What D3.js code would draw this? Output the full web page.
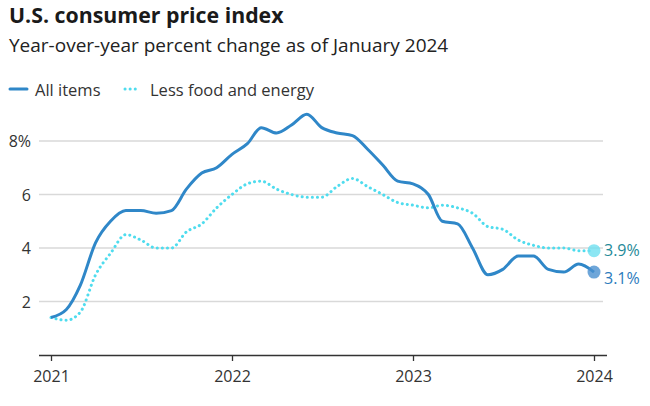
<!DOCTYPE html>
<html>
<head>
<meta charset="utf-8">
<script src="https://cdn.jsdelivr.net/npm/d3@7"></script>
<style>
  body { margin: 0; background: #fff; }
  svg { font-family: "Open Sans", Lato, sans-serif; }
</style>
</head>
<body>
<div id="chart"></div>
<script>
// monthly, Jan 2021 .. Jan 2024
var startMonth = "2021-01";
var allItems = [1.4, 1.7, 2.6, 4.2, 5.0, 5.4, 5.4, 5.3, 5.4, 6.2, 6.8, 7.0,
                7.5, 7.9, 8.5, 8.3, 8.6, 9.0, 8.5, 8.3, 8.2, 7.7, 7.1, 6.5,
                6.4, 6.0, 5.0, 4.9, 4.0, 3.0, 3.2, 3.7, 3.7, 3.2, 3.1, 3.4,
                3.1];
var lessFoodEnergy = [1.4, 1.3, 1.6, 3.0, 3.8, 4.5, 4.3, 4.0, 4.0, 4.6, 4.9, 5.5,
                      6.0, 6.4, 6.5, 6.2, 6.0, 5.9, 5.9, 6.3, 6.6, 6.3, 6.0, 5.7,
                      5.6, 5.5, 5.6, 5.5, 5.3, 4.8, 4.7, 4.3, 4.1, 4.0, 4.0, 3.9,
                      3.9];
var yTicks = [2, 4, 6, 8];
var xTicks = ["2021-01", "2022-01", "2023-01", "2024-01"];

var parseMonth = d3.timeParse("%Y-%m");
var t0 = parseMonth(startMonth);
var dates = allItems.map(function(d, i) { return d3.timeMonth.offset(t0, i); });

var width = 650, height = 406;
var svg = d3.select("#chart").append("svg")
    .attr("width", width)
    .attr("height", height);

var x = d3.scaleTime()
    .domain([parseMonth(xTicks[0]), parseMonth(xTicks[3])])
    .range([51, 594]);
var y = d3.scaleLinear()
    .domain([0, 8])
    .range([355, 141]);

// title block
svg.append("text")
    .attr("x", 9).attr("y", 23)
    .style("font-size", "21.3px").style("font-weight", "bold").style("fill", "#1a1a1a")
    .text("U.S. consumer price index");
svg.append("text")
    .attr("x", 9).attr("y", 52)
    .style("font-size", "19px").style("fill", "#222")
    .text("Year-over-year percent change as of January 2024");

// legend
var legend = svg.append("g").attr("transform", "translate(0,89)");
legend.append("line")
    .attr("x1", 10).attr("x2", 27)
    .attr("stroke", "#2f87c8").attr("stroke-width", 3).attr("stroke-linecap", "round");
legend.append("text")
    .attr("x", 35).attr("y", 6.5)
    .style("font-size", "16.5px").style("fill", "#333")
    .text("All items");
legend.append("line")
    .attr("x1", 125).attr("x2", 139)
    .attr("stroke", "#4fdcee").attr("stroke-width", 3).attr("stroke-linecap", "round")
    .attr("stroke-dasharray", "0.1 5");
legend.append("text")
    .attr("x", 150).attr("y", 6.5)
    .style("font-size", "16.5px").style("fill", "#333")
    .text("Less food and energy");

// gridlines + y labels
var grid = svg.append("g");
grid.selectAll("line")
    .data(yTicks)
  .enter().append("line")
    .attr("x1", 39).attr("x2", 603)
    .attr("y1", function(d) { return y(d); })
    .attr("y2", function(d) { return y(d); })
    .attr("stroke", "#d9d9d9").attr("stroke-width", 1.3);
grid.selectAll("text")
    .data(yTicks)
  .enter().append("text")
    .attr("x", 31)
    .attr("y", function(d) { return y(d) + 6; })
    .attr("text-anchor", "end")
    .style("font-size", "16px").style("fill", "#333")
    .text(function(d) { return d === 8 ? d + "%" : d; });

// x axis
var xAxis = svg.append("g")
    .attr("transform", "translate(0," + y(0) + ")")
    .call(d3.axisBottom(x)
        .tickValues(xTicks.map(parseMonth))
        .tickFormat(d3.timeFormat("%Y"))
        .tickSize(6)
        .tickSizeOuter(0));
xAxis.select(".domain").attr("d", "M39,0.5H607").attr("stroke", "#333").attr("stroke-width", 1.3);
xAxis.selectAll(".tick line").attr("stroke", "#333").attr("stroke-width", 1.3);
xAxis.selectAll(".tick text")
    .attr("dy", "1.15em")
    .style("font-size", "16px").style("fill", "#333")
    .style("font-family", "'Open Sans', Lato, sans-serif");

// lines
var line = d3.line()
    .x(function(d, i) { return x(dates[i]); })
    .y(function(d) { return y(d); })
    .curve(d3.curveMonotoneX);

svg.append("path")
    .datum(lessFoodEnergy)
    .attr("fill", "none")
    .attr("stroke", "#4fdcee")
    .attr("stroke-width", 3)
    .attr("stroke-linecap", "round")
    .attr("stroke-dasharray", "0.1 5")
    .attr("d", line);

svg.append("path")
    .datum(allItems)
    .attr("fill", "none")
    .attr("stroke", "#2f87c8")
    .attr("stroke-width", 3)
    .attr("stroke-linejoin", "round")
    .attr("d", line);

// end markers
var last = allItems.length - 1;
var ends = [
  {v: lessFoodEnergy[last], dot: "#6fe0f0", txt: "#1f8a99", dy: 0},
  {v: allItems[last], dot: "#4a90cf", txt: "#2b7bbd", dy: 6}
];
ends.forEach(function(e) {
  svg.append("circle")
      .attr("cx", x(dates[last]))
      .attr("cy", y(e.v))
      .attr("r", 6.5)
      .attr("fill", e.dot)
      .attr("fill-opacity", 0.8);
  svg.append("text")
      .attr("x", x(dates[last]) + 10)
      .attr("y", y(e.v) + 5.5 + e.dy)
      .style("font-size", "16px")
      .style("fill", e.txt)
      .text(d3.format(".1f")(e.v) + "%");
});
</script>
</body>
</html>
